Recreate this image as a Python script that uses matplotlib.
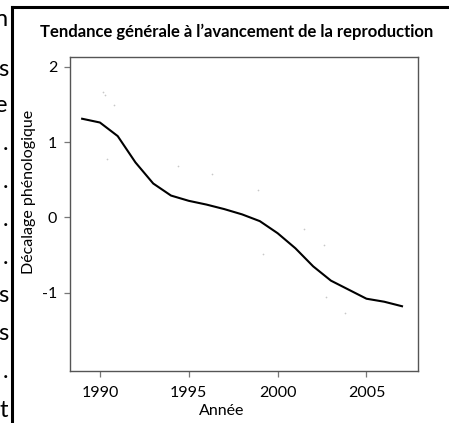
import numpy as np
import matplotlib.pyplot as plt
from matplotlib.lines import Line2D

plt.rcParams['font.family'] = ['Lato', 'DejaVu Sans']

# smoothed trend (one value per year)
years = [1989, 1990, 1991, 1992, 1993, 1994, 1995, 1996, 1997, 1998,
         1999, 2000, 2001, 2002, 2003, 2004, 2005, 2006, 2007]
trend = [1.31, 1.26, 1.08, 0.73, 0.45, 0.29, 0.22, 0.17, 0.11, 0.04,
         -0.05, -0.21, -0.41, -0.65, -0.84, -0.96, -1.08, -1.12, -1.18]

# faint raw points still visible behind the curve
pt_x = [1990.15, 1990.3, 1990.8, 1990.4, 1994.4, 1996.3, 1998.9,
        2001.5, 2002.6, 1999.2, 2002.7, 2003.8]
pt_y = [1.66, 1.63, 1.49, 0.77, 0.68, 0.58, 0.36,
        -0.16, -0.37, -0.49, -1.06, -1.27]

xticks = [1990, 1995, 2000, 2005]
yticks = [2, 1, 0, -1]
ytick_labels = ['2', '1', '0', '-1']

# cut-off letters of the neighbouring text column
edge_chars = ['n', 's', 'e', '.', '.', '.', '.', 's', 's', '.', 't']
edge_y = [20, 70, 106, 143, 181, 219, 257, 295, 333, 371, 410]

W, H = 449, 423
fig = plt.figure(figsize=(W / 100, H / 100), dpi=100)
ax = fig.add_axes([69.7 / W, 1 - 371 / H, (418 - 69.7) / W, (371 - 57) / H])

ax.scatter(pt_x, pt_y, s=1.5, color='#c8c8c8', linewidths=0)
ax.plot(years, trend, color='black', lw=1.5)

ax.set_xlim(1988.3, 2007.9)
ax.set_ylim(-2.04, 2.13)
ax.set_xticks(xticks)
ax.set_xticklabels([str(t) for t in xticks])
ax.set_yticks(yticks)
ax.set_yticklabels(ytick_labels)
ax.tick_params(length=4, width=0.9, color='#777777', labelsize=11.5)
ax.tick_params(axis='x', pad=7)
ax.tick_params(axis='y', pad=5)
for s in ax.spines.values():
    s.set_color('#555555')
    s.set_linewidth(1.0)

fig.text(237 / W, 1 - 32 / H, 'Tendance générale à l’avancement de la reproduction',
         ha='center', va='center', fontsize=12, fontweight='bold')
fig.text(222 / W, 1 - 411 / H, 'Année', ha='center', va='center', fontsize=11.5)
fig.text(29 / W, 1 - 192 / H, 'Décalage phénologique', ha='center', va='center',
         rotation=90, fontsize=11.5)

# black frame of the page
fig.add_artist(Line2D([12 / W, 1], [1 - 7 / H, 1 - 7 / H], color='black', lw=2.2,
                      transform=fig.transFigure))
fig.add_artist(Line2D([12 / W, 12 / W], [1 - 7 / H, 0], color='black', lw=2.2,
                      transform=fig.transFigure))
for ch, y in zip(edge_chars, edge_y):
    fig.text(8 / W, 1 - y / H, ch, ha='right', va='center', fontsize=17)

fig.savefig('out.png', dpi=100)
